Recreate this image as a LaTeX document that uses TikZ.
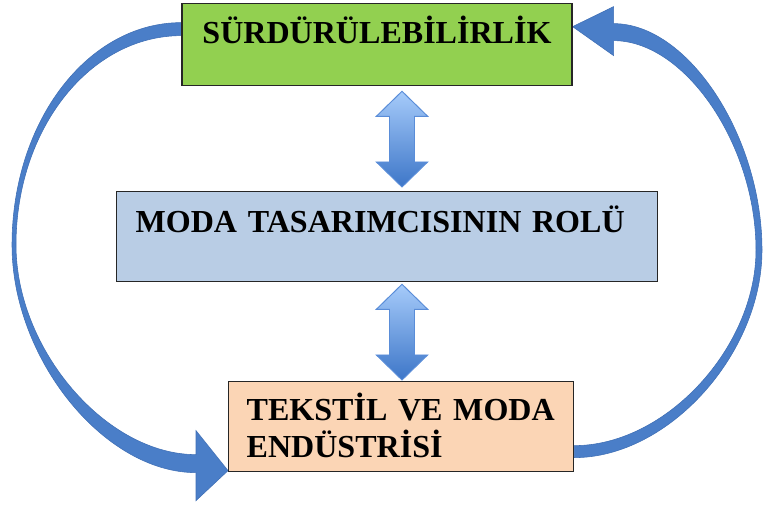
\documentclass[tikz,border=0pt]{standalone}
\usepackage{fontspec}
\setmainfont{Liberation Serif}
\usetikzlibrary{calc,backgrounds}

\definecolor{surdgreen}{HTML}{92D050}
\definecolor{rolblue}{HTML}{B9CDE5}
\definecolor{tekpeach}{HTML}{FBD5B5}
\definecolor{curveblue}{HTML}{4A7EC8}
\definecolor{curveedge}{HTML}{3F6FB5}
\definecolor{arrowtop}{HTML}{A6CBFA}
\definecolor{arrowbottom}{HTML}{3D76C8}
\definecolor{arrowedge}{HTML}{5A8DD8}

% block double arrow between two named points
\newcommand{\dblarrow}[2]{%
	\draw[dblarrowstyle] let \p1=(#1), \p2=(#2) in
	(\x1,\y1) -- (\x1+0.64cm,\y1-0.625cm) -- (\x1+0.3125cm,\y1-0.625cm)
	-- (\x1+0.3125cm,\y2+0.625cm) -- (\x1+0.64cm,\y2+0.625cm) -- (\x1,\y2)
	-- (\x1-0.64cm,\y2+0.625cm) -- (\x1-0.3125cm,\y2+0.625cm)
	-- (\x1-0.3125cm,\y1-0.625cm) -- (\x1-0.64cm,\y1-0.625cm) -- cycle;}

\begin{document}
\begin{tikzpicture}
			\tikzstyle{boxstyle} = [draw=black!85, line width=0.9pt, inner ysep=0pt,
				font=\fontsize{22.8pt}{26.3pt}\selectfont\bfseries]
			\tikzstyle{dblarrowstyle} = [draw=arrowedge, line width=0.7pt, line join=miter,
				top color=arrowtop, bottom color=arrowbottom]
			\tikzstyle{curvearrow} = [fill=curveblue, draw=curveedge, line width=0.4pt]
			
			\useasboundingbox (0,0) rectangle (19.075,12.7);
			
			\node [boxstyle, fill=surdgreen, anchor=north, minimum width=9.75cm,
				text height=1cm, text depth=1.05cm] (surd) at (9.425,12.625) {SÜRDÜRÜLEBİLİRLİK};
			\node [boxstyle, fill=rolblue, anchor=north west, inner xsep=0.475cm,
				text width=12.575cm, align=left, text height=1.025cm, text depth=1.225cm]
				(rol) at (2.9,7.925) {MODA TASARIMCISININ ROLÜ};
			\node [boxstyle, fill=tekpeach, anchor=north west, inner xsep=0.45cm,
				text width=7.725cm, align=left, text height=0.975cm, text depth=1.275cm]
				(tekstil) at (5.7,3.175) {TEKSTİL VE MODA\\ENDÜSTRİSİ};
			
			\coordinate (a1) at ([xshift=0.625cm,yshift=-0.125cm]surd.south);
			\coordinate (a2) at ([yshift=0.1cm]a1 |- rol.north);
			\coordinate (b1) at ([yshift=-0.05cm]a1 |- rol.south);
			\coordinate (b2) at ([yshift=0.025cm]a1 |- tekstil.north);
			\dblarrow{a1}{a2}
			\dblarrow{b1}{b2}
			
			\coordinate (lo) at (0.3,6.575);
			\coordinate (li) at (0.4,6.575);
			\coordinate (ro) at (19.05,6.45);
			\coordinate (ri) at (18.9,6.45);
			
			\begin{scope}[on background layer]
			\draw [curvearrow] ([yshift=0.55cm]surd.west) .. controls +(-2.347,0) and +(0,3.079) .. (lo)
				.. controls +(0,-2.8375) and +(-2.3,0) .. ([xshift=-0.8cm,yshift=-1.15cm]tekstil.west)
				-- ([xshift=-0.8cm,yshift=-1.85cm]tekstil.west) -- ([yshift=-1.1cm]tekstil.west)
				-- ([xshift=-0.8cm,yshift=-0.1cm]tekstil.west) -- ([xshift=-0.8cm,yshift=-0.7cm]tekstil.west)
				.. controls +(-2.25,0) and +(0,-2.6125) .. (li)
				.. controls +(0,2.9) and +(-2.292,0) .. ([yshift=0.225cm]surd.west) -- cycle;
			\draw [curvearrow] ([yshift=-0.775cm]tekstil.east) .. controls +(2.3625,0) and +(0,-2.5875) .. (ro)
				.. controls +(0,2.8375) and +(1.8625,0) .. ([xshift=1.025cm,yshift=0.525cm]surd.east)
				-- ([xshift=1.025cm,yshift=0.95cm]surd.east) -- ([yshift=0.45cm]surd.east)
				-- ([xshift=1.025cm,yshift=-0.275cm]surd.east) -- ([xshift=1.025cm,yshift=0.1cm]surd.east)
				.. controls +(1.7875,0) and +(0,2.625) .. (ri)
				.. controls +(0,-2.4375) and +(2.2875,0) .. ([yshift=-0.475cm]tekstil.east) -- cycle;
			\end{scope}
			
\end{tikzpicture}
\end{document}
